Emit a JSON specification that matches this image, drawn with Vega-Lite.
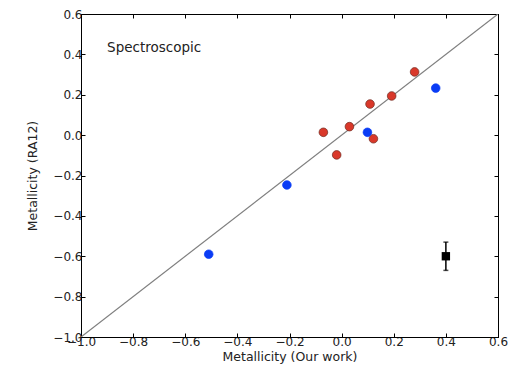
{
  "$schema": "https://vega.github.io/schema/vega-lite/v6.json",
  "width": 417,
  "height": 323,
  "autosize": "none",
  "padding": {"left": 81, "top": 14, "right": 20, "bottom": 42},
  "background": "white",
  "config": {
    "font": "DejaVu Sans",
    "view": {"stroke": "black", "strokeWidth": 1},
    "axis": {
      "domainColor": "black",
      "tickColor": "black",
      "tickSize": -4,
      "labelColor": "#222",
      "titleColor": "#222",
      "labelFontSize": 12,
      "titleFontSize": 12.5,
      "titleFontWeight": "normal",
      "grid": false,
      "labelPadding": 3,
      "labelFlush": false,
      "labelOverlap": false
    }
  },
  "resolve": {"axis": {"x": "independent", "y": "independent"}},
  "layer": [
    {
      "data": {"values": [{"x": -1.0, "y": -1.0}, {"x": 0.6, "y": 0.6}]},
      "mark": {"type": "line", "color": "#7f7f7f", "strokeWidth": 1.2, "clip": true},
      "encoding": {
        "x": {"field": "x", "type": "quantitative", "scale": {"domain": [-1.0, 0.6], "nice": false, "zero": false},
          "axis": {"title": "Metallicity (Our work)", "values": [-1.0, -0.8, -0.6, -0.4, -0.2, 0.0, 0.2, 0.4, 0.6], "format": ".1f", "titlePadding": 3}},
        "y": {"field": "y", "type": "quantitative", "scale": {"domain": [-1.0, 0.6], "nice": false, "zero": false},
          "axis": {"title": "Metallicity (RA12)", "values": [-1.0, -0.8, -0.6, -0.4, -0.2, 0.0, 0.2, 0.4, 0.6], "format": ".1f", "titlePadding": 13}}
      }
    },
    {
      "data": {"values": [{"x": -1.0, "y": -1.0}, {"x": 0.6, "y": 0.6}]},
      "mark": {"type": "point", "opacity": 0},
      "encoding": {
        "x": {"field": "x", "type": "quantitative", "axis": {"orient": "top", "labels": false, "title": null, "values": [-1.0, -0.8, -0.6, -0.4, -0.2, 0.0, 0.2, 0.4, 0.6]}},
        "y": {"field": "y", "type": "quantitative", "axis": {"orient": "right", "labels": false, "title": null, "values": [-1.0, -0.8, -0.6, -0.4, -0.2, 0.0, 0.2, 0.4, 0.6]}}
      }
    },
    {
      "data": {"values": [
        {"x": -0.070, "y": 0.014, "group": "red"},
        {"x": -0.019, "y": -0.098, "group": "red"},
        {"x": 0.030, "y": 0.042, "group": "red"},
        {"x": 0.109, "y": 0.154, "group": "red"},
        {"x": 0.122, "y": -0.018, "group": "red"},
        {"x": 0.192, "y": 0.194, "group": "red"},
        {"x": 0.280, "y": 0.313, "group": "red"},
        {"x": -0.51, "y": -0.59, "group": "blue"},
        {"x": -0.21, "y": -0.247, "group": "blue"},
        {"x": 0.099, "y": 0.014, "group": "blue"},
        {"x": 0.361, "y": 0.233, "group": "blue"}
      ]},
      "mark": {"type": "circle", "size": 75, "opacity": 1, "strokeWidth": 0.7},
      "encoding": {
        "x": {"field": "x", "type": "quantitative", "axis": null},
        "y": {"field": "y", "type": "quantitative", "axis": null},
        "fill": {"field": "group", "type": "nominal", "scale": {"domain": ["red", "blue"], "range": ["#d9382a", "#0a3cf5"]}, "legend": null},
        "stroke": {"field": "group", "type": "nominal", "scale": {"domain": ["red", "blue"], "range": ["#6e2a20", "#0a3cf5"]}, "legend": null}
      }
    },
    {
      "data": {"values": [{"x": 0.4, "y": -0.6, "lo": -0.67, "hi": -0.53}]},
      "layer": [
        {
          "mark": {"type": "rule", "color": "black", "strokeWidth": 1.5},
          "encoding": {
            "x": {"field": "x", "type": "quantitative", "axis": null},
            "y": {"field": "lo", "type": "quantitative", "axis": null},
            "y2": {"field": "hi"}
          }
        },
        {
          "mark": {"type": "tick", "color": "black", "orient": "horizontal", "size": 5, "thickness": 1.5},
          "encoding": {
            "x": {"field": "x", "type": "quantitative", "axis": null},
            "y": {"field": "lo", "type": "quantitative", "axis": null}
          }
        },
        {
          "mark": {"type": "tick", "color": "black", "orient": "horizontal", "size": 5, "thickness": 1.5},
          "encoding": {
            "x": {"field": "x", "type": "quantitative", "axis": null},
            "y": {"field": "hi", "type": "quantitative", "axis": null}
          }
        },
        {
          "mark": {"type": "square", "color": "black", "size": 70, "opacity": 1},
          "encoding": {
            "x": {"field": "x", "type": "quantitative", "axis": null},
            "y": {"field": "y", "type": "quantitative", "axis": null}
          }
        }
      ]
    },
    {
      "data": {"values": [{"x": -0.90, "y": 0.43, "label": "Spectroscopic"}]},
      "mark": {"type": "text", "align": "left", "baseline": "middle", "fontSize": 13.5, "color": "#222"},
      "encoding": {
        "x": {"field": "x", "type": "quantitative", "axis": null},
        "y": {"field": "y", "type": "quantitative", "axis": null},
        "text": {"field": "label"}
      }
    }
  ]
}
